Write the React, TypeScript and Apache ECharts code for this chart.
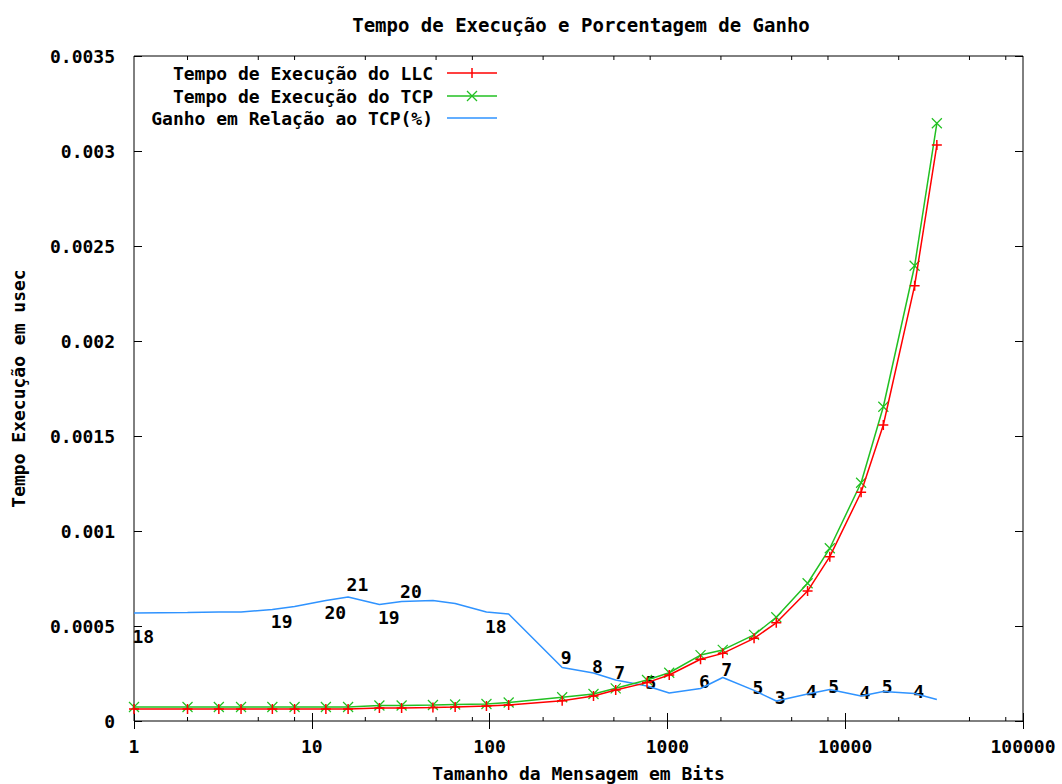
import React, { useEffect, useRef } from 'react';
import * as echarts from 'echarts';

// Message sizes (bits) – x values
const msgSizes = [1, 2, 3, 4, 6, 8, 12, 16, 24, 32, 48, 64, 96, 128, 256, 384, 512, 768, 1024, 1536, 2048, 3072, 4096, 6144, 8192, 12288, 16384, 24576, 32768];

// Execution time LLC (usec)
const llcTime = [
  0.0000632, 0.0000632, 0.0000632, 0.0000632, 0.0000632, 0.0000632, 0.0000632, 0.0000632,
  0.0000684, 0.0000684, 0.000071, 0.0000737, 0.0000789, 0.0000842,
  0.000107, 0.000132, 0.000163, 0.000202, 0.000242,
  0.000325, 0.000356, 0.000435, 0.000517,
  0.000684, 0.000865, 0.001204, 0.001558, 0.002291, 0.003031,
];

// Execution time TCP (usec)
const tcpTime = [
  0.0000737, 0.0000737, 0.0000737, 0.0000737, 0.0000737, 0.0000737, 0.0000737, 0.0000737,
  0.0000816, 0.0000816, 0.0000842, 0.0000868, 0.0000895, 0.0000974,
  0.000125, 0.000142, 0.000172, 0.000216, 0.000254,
  0.000347, 0.000374, 0.000453, 0.000546,
  0.000725, 0.000909, 0.001254, 0.001654, 0.002396, 0.003146,
];

// Gain curve (scaled onto the time axis)
const gainCurve = [
  0.000568, 0.000571, 0.000574, 0.000574, 0.000587, 0.000603, 0.000634, 0.000653,
  0.000613, 0.000629, 0.000634, 0.000618, 0.000574, 0.000563,
  0.000282, 0.000253, 0.000216, 0.000184, 0.000147,
  0.000171, 0.000229, 0.000161, 0.000105,
  0.000142, 0.000166, 0.000132, 0.000155, 0.000145, 0.000113,
];

// Gain labels (%)
const gainLabelSizes = [1, 6, 12, 16, 24, 32, 96, 256, 384, 512, 768, 1536, 2048, 3072, 4096, 6144, 8192, 12288, 16384, 24576];
const gainLabelTexts = ['18', '19', '20', '21', '19', '20', '18', '9', '8', '7', '5', '6', '7', '5', '3', '4', '5', '4', '5', '4'];
const gainLabelHeights = [
  0.000442, 0.000521, 0.000568, 0.000716, 0.000542, 0.000679, 0.000495,
  0.000332, 0.000286, 0.000255, 0.0002, 0.000205, 0.000268, 0.000174,
  0.000121, 0.000153, 0.000179, 0.000147, 0.000179, 0.000153,
];

// Minor ticks of the log x axis
const xMinorTicks = [2, 5, 8, 20, 50, 80, 200, 500, 800, 2000, 5000, 8000, 20000, 50000, 80000];

const seriesNames = ['Tempo de Execução do LLC', 'Tempo de Execução do TCP', 'Ganho em Relação ao TCP(%)'];
const titleText = 'Tempo de Execução e Porcentagem de Ganho';
const xTitle = 'Tamanho da Mensagem em Bits';
const yTitle = 'Tempo Execução em usec';

const RED = '#ff0000';
const GREEN = '#22c022';
const BLUE = '#2f93ff';
const FONT = '"DejaVu Sans Mono", monospace';
const PLUS = 'path://M5 0L5 10M0 5L10 5';
const CROSS = 'path://M0 0L10 10M10 0L0 10';

export default function App() {
  const ref = useRef<HTMLDivElement>(null);

  useEffect(() => {
    if (!ref.current) return;
    const chart = echarts.init(ref.current, undefined, { renderer: 'svg' });

    const llcData = msgSizes.map((x, i) => [x, llcTime[i]]);
    const tcpData = msgSizes.map((x, i) => [x, tcpTime[i]]);
    const gainData = msgSizes.map((x, i) => [x, gainCurve[i]]);
    const labelData = gainLabelSizes.map((x, i) => [x, gainLabelHeights[i], gainLabelTexts[i]]);
    const minorData = xMinorTicks.map((x) => [x, 0]);

    const textBase = { fontFamily: FONT, fontWeight: 'bold' as const, fontSize: 18, color: '#000' };

    const legendX = 433;
    const legendRows = [73, 96, 118];
    const legendColors = [RED, GREEN, BLUE];

    const legendGraphics: any[] = [];
    legendRows.forEach((y, i) => {
      legendGraphics.push({
        type: 'text',
        x: legendX,
        y,
        style: { text: seriesNames[i], align: 'right', verticalAlign: 'middle', fill: '#000', font: `bold 18px ${FONT}` },
      });
      legendGraphics.push({
        type: 'line',
        shape: { x1: 447, y1: y, x2: 497, y2: y },
        style: { stroke: legendColors[i], lineWidth: 1.5 },
      });
      if (i === 0) {
        legendGraphics.push({ type: 'line', shape: { x1: 472, y1: y - 5, x2: 472, y2: y + 5 }, style: { stroke: RED, lineWidth: 1.5 } });
      }
      if (i === 1) {
        legendGraphics.push({ type: 'line', shape: { x1: 467, y1: y - 5, x2: 477, y2: y + 5 }, style: { stroke: GREEN, lineWidth: 1.2 } });
        legendGraphics.push({ type: 'line', shape: { x1: 477, y1: y - 5, x2: 467, y2: y + 5 }, style: { stroke: GREEN, lineWidth: 1.2 } });
      }
    });

    const option: any = {
      animation: false,
      backgroundColor: '#fff',
      title: {
        text: titleText,
        left: 576,
        top: 10,
        textAlign: 'center',
        textStyle: { ...textBase, fontSize: 19 },
      },
      grid: {
        left: 134,
        right: 39,
        top: 56,
        bottom: 63,
        containLabel: false,
        outerBoundsMode: 'none',
        show: true,
        borderColor: '#000',
        borderWidth: 1,
        backgroundColor: 'transparent',
      },
      xAxis: [
        {
          type: 'log',
          logBase: 10,
          min: 1,
          max: 100000,
          name: xTitle,
          nameLocation: 'middle',
          nameGap: 43,
          nameTextStyle: { ...textBase },
          axisLine: { show: false },
          axisTick: { show: true, inside: true, length: 8, lineStyle: { color: '#000' } },
          axisLabel: { ...textBase, margin: 16, formatter: (v: number) => String(Math.round(v)) },
          splitLine: { show: false },
          minorTick: { show: false },
        },
        {
          type: 'log',
          logBase: 10,
          min: 1,
          max: 100000,
          position: 'top',
          axisLine: { show: false },
          axisTick: { show: true, inside: true, length: 8, lineStyle: { color: '#000' } },
          axisLabel: { show: false },
          splitLine: { show: false },
        },
      ],
      yAxis: [
        {
          type: 'value',
          min: 0,
          max: 0.0035,
          interval: 0.0005,
          name: yTitle,
          nameLocation: 'middle',
          nameGap: 107,
          nameRotate: 90,
          nameTextStyle: { ...textBase },
          axisLine: { show: false },
          axisTick: { show: true, inside: true, length: 8, lineStyle: { color: '#000' } },
          axisLabel: { ...textBase, margin: 19, formatter: (v: number) => String(Number(v.toFixed(4))) },
          splitLine: { show: false },
        },
        {
          type: 'value',
          min: 0,
          max: 0.0035,
          interval: 0.0005,
          position: 'right',
          axisLine: { show: false },
          axisTick: { show: true, inside: true, length: 8, lineStyle: { color: '#000' } },
          axisLabel: { show: false },
          splitLine: { show: false },
        },
      ],
      graphic: legendGraphics,
      series: [
        {
          type: 'custom',
          name: 'minorTicks',
          xAxisIndex: 0,
          yAxisIndex: 0,
          data: minorData,
          silent: true,
          clip: false,
          z: 1,
          renderItem: (params: any, api: any) => {
            const pt = api.coord([api.value(0), api.value(1)]);
            const cs = params.coordSys;
            const yb = cs.y + cs.height;
            const yt = cs.y;
            return {
              type: 'group',
              children: [
                { type: 'line', shape: { x1: pt[0], y1: yb, x2: pt[0], y2: yb - 4 }, style: { stroke: '#000', lineWidth: 1 } },
                { type: 'line', shape: { x1: pt[0], y1: yt, x2: pt[0], y2: yt + 4 }, style: { stroke: '#000', lineWidth: 1 } },
              ],
            };
          },
        },
        {
          type: 'scatter',
          name: 'gainLabels',
          data: labelData,
          symbolSize: 1,
          itemStyle: { color: 'transparent' },
          silent: true,
          z: 1,
          label: {
            show: true,
            position: [-1, 0],
            align: 'left',
            verticalAlign: 'middle',
            formatter: (p: any) => p.value[2],
            ...textBase,
            color: '#000',
            opacity: 1,
          },
        },
        {
          type: 'line',
          name: seriesNames[2],
          data: gainData,
          showSymbol: false,
          symbol: 'none',
          lineStyle: { color: BLUE, width: 1.5 },
          itemStyle: { color: BLUE },
          z: 2,
        },
        {
          type: 'line',
          name: seriesNames[1],
          data: tcpData,
          symbol: CROSS,
          symbolSize: 10,
          showAllSymbol: true,
          lineStyle: { color: GREEN, width: 1.5 },
          itemStyle: { color: GREEN, borderColor: GREEN, borderWidth: 1.2 },
          z: 3,
        },
        {
          type: 'line',
          name: seriesNames[0],
          data: llcData,
          symbol: PLUS,
          symbolSize: 10,
          showAllSymbol: true,
          lineStyle: { color: RED, width: 1.5 },
          itemStyle: { color: RED, borderColor: RED, borderWidth: 1.5 },
          z: 4,
        },
      ],
    };

    chart.setOption(option);
    return () => chart.dispose();
  }, []);

  return <div ref={ref} style={{ position: 'fixed', left: 0, top: 0, width: 1062, height: 784 }} />;
}
